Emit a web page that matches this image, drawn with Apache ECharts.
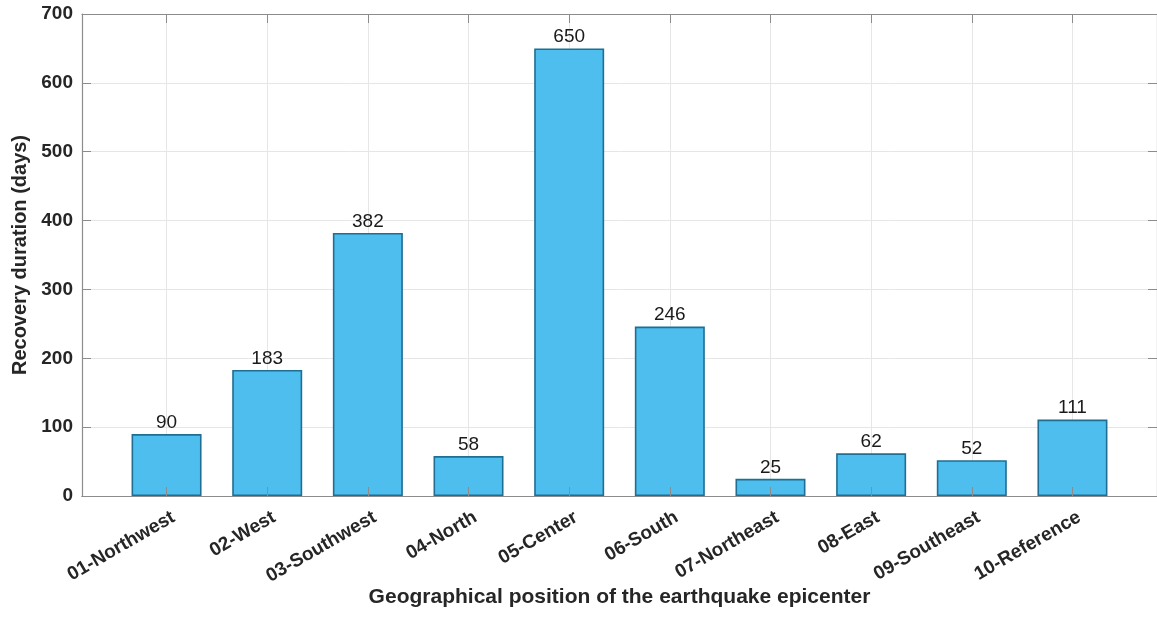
<!DOCTYPE html>
<html>
<head>
<meta charset="utf-8">
<script src="https://cdn.jsdelivr.net/npm/echarts@6/dist/echarts.min.js"></script>
<style>
  html, body { margin: 0; padding: 0; background: #fff; }
  #chart { width: 1157px; height: 617px; }
</style>
</head>
<body>
<div id="chart"></div>
<script>
// Epicenter positions and their recovery durations (days)
const categories = ['01-Northwest', '02-West', '03-Southwest', '04-North', '05-Center',
                    '06-South', '07-Northeast', '08-East', '09-Southeast', '10-Reference'];
const recoveryDays = [90, 183, 382, 58, 650, 246, 25, 62, 52, 111];
const yTicks = [0, 100, 200, 300, 400, 500, 600, 700];

// category positions 1..N on a numeric axis so the bars sit with the wide side margins
const positions = categories.map((_, i) => i + 1);
const barData = positions.map((p, i) => [p, recoveryDays[i]]);

const FONT = '"Liberation Sans", Arial, Helvetica, sans-serif';
const frameColor = '#8c8c8c';
const gridColor = '#e6e6e6';
const textColor = '#262626';

const chart = echarts.init(document.getElementById('chart'), null, { renderer: 'canvas' });

const xBase = {
  type: 'value',
  min: 0.16,
  max: 10.84,
  axisLine: { show: true, onZero: false, lineStyle: { color: frameColor, width: 1.2 } },
  axisTick: { show: true, inside: true, length: 9, customValues: positions, lineStyle: { color: frameColor } },
  splitLine: { show: false },
  axisLabel: { show: false }
};

chart.setOption({
  animation: false,
  grid: { left: 82, top: 14, width: 1077, bottom: 121, containLabel: false },
  xAxis: [
    // bottom axis: category labels, axis title and vertical grid lines (under the bars)
    Object.assign({}, xBase, {
      position: 'bottom',
      z: 0,
      name: 'Geographical position of the earthquake epicenter',
      nameLocation: 'middle',
      nameGap: 91,
      nameMoveOverlap: false,
      nameTextStyle: { fontFamily: FONT, fontSize: 21, fontWeight: 'bold', color: textColor },
      axisTick: { show: false, customValues: positions },
      splitLine: { show: true, lineStyle: { color: gridColor, width: 1 } },
      axisLabel: {
        show: true,
        customValues: positions,
        rotate: 30,
        margin: 24,
        padding: [0, -8, 0, 0],
        fontFamily: FONT,
        fontSize: 19,
        fontWeight: 'bold',
        color: textColor,
        formatter: v => categories[Math.round(v) - 1] || ''
      }
    }),
    // top frame edge with inward ticks
    Object.assign({}, xBase, { position: 'top', z: 10 }),
    // bottom edge with inward ticks drawn over the bars
    Object.assign({}, xBase, { position: 'bottom', z: 10 })
  ],
  yAxis: [
    {
      type: 'value',
      min: 0,
      max: 700,
      interval: 100,
      position: 'left',
      name: 'Recovery duration (days)',
      nameLocation: 'middle',
      nameGap: 52,
      nameMoveOverlap: false,
      nameTextStyle: { fontFamily: FONT, fontSize: 20, fontWeight: 'bold', color: textColor },
      axisLine: { show: true, lineStyle: { color: frameColor, width: 1.2 } },
      axisTick: { show: true, inside: true, length: 9, lineStyle: { color: frameColor } },
      splitLine: { show: true, lineStyle: { color: gridColor, width: 1 } },
      axisLabel: {
        fontFamily: FONT, fontSize: 19, fontWeight: 'bold', color: textColor, margin: 9,
        formatter: v => (yTicks.includes(v) ? String(v) : '')
      }
    },
    {
      type: 'value',
      min: 0,
      max: 700,
      interval: 100,
      position: 'right',
      axisLine: { show: true, lineStyle: { color: frameColor, width: 1.2 } },
      axisTick: { show: true, inside: true, length: 9, lineStyle: { color: frameColor } },
      splitLine: { show: false },
      axisLabel: { show: false }
    }
  ],
  series: [{
    type: 'bar',
    xAxisIndex: 0,
    yAxisIndex: 0,
    data: barData,
    barWidth: 70,
    itemStyle: { color: '#4DBEEE', borderColor: '#1F6E93', borderWidth: 1.6 },
    label: {
      show: true,
      position: 'top',
      distance: 2,
      fontFamily: FONT,
      fontSize: 19,
      color: '#1a1a1a',
      formatter: p => String(p.value[1])
    },
    z: 3
  }]
});
</script>
</body>
</html>
